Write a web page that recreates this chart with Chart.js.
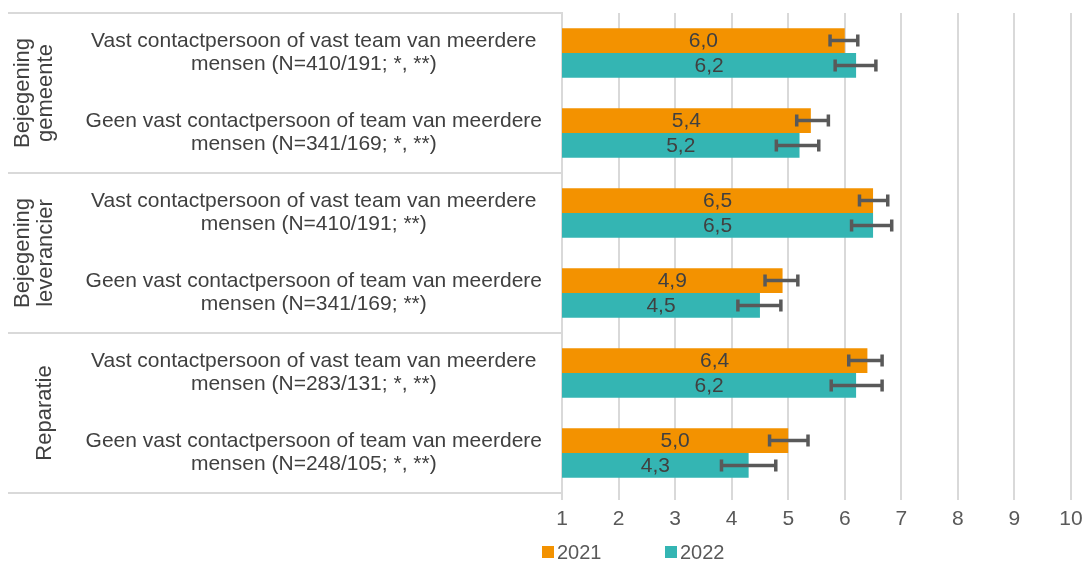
<!DOCTYPE html>
<html>
<head>
  <meta charset="utf-8">
  <title>Bejegening en reparatie</title>
  <script src="https://cdn.jsdelivr.net/npm/chart.js"></script>
  <style>
    html, body { margin: 0; padding: 0; background: #fff; }
    #wrap { width: 1083px; height: 562px; position: relative; }
  </style>
</head>
<body>
  <div id="wrap"><canvas id="chart"></canvas></div>

  <script>
    // data
    const categories = [
      ["Vast contactpersoon of vast team van meerdere", "mensen (N=410/191; *, **)"],
      ["Geen vast contactpersoon of team van meerdere", "mensen (N=341/169; *, **)"],
      ["Vast contactpersoon of vast team van meerdere", "mensen (N=410/191; **)"],
      ["Geen vast contactpersoon of team van meerdere", "mensen (N=341/169; **)"],
      ["Vast contactpersoon of vast team van meerdere", "mensen (N=283/131; *, **)"],
      ["Geen vast contactpersoon of team van meerdere", "mensen (N=248/105; *, **)"]
    ];
    const groups = [
      ["Bejegening", "gemeente"],
      ["Bejegening", "leverancier"],
      ["Reparatie"]
    ];
    const groupSize = 2;
    const seriesNames = ["2021", "2022"];
    const values2021 = [6.0, 5.4, 6.5, 4.9, 6.4, 5.0];
    const values2022 = [6.2, 5.2, 6.5, 4.5, 6.2, 4.3];
    const low2021 = [5.74, 5.15, 6.26, 4.59, 6.07, 4.67];
    const high2021 = [6.23, 5.71, 6.76, 5.17, 6.66, 5.35];
    const low2022 = [5.83, 4.79, 6.12, 4.11, 5.76, 3.82];
    const high2022 = [6.55, 5.54, 6.83, 4.87, 6.66, 4.78];
    const xTicks = [1, 2, 3, 4, 5, 6, 7, 8, 9, 10];

    const orange = "#F39200";
    const teal = "#34B5B3";
    const lineGray = "#D9D9D9";
    const textGray = "#404040";
    const fontFam = "'Liberation Sans', Arial, sans-serif";

    const fmt = v => v.toFixed(1).replace(".", ",");

    // error bars, value labels, group labels, left separators, legend
    const extras = {
      id: "extras",
      afterDatasetsDraw(chart) {
        const ctx = chart.ctx;
        const xs = chart.scales.x;
        const ys = chart.scales.y;
        const area = chart.chartArea;

        // left separator lines
        ctx.save();
        ctx.strokeStyle = lineGray;
        ctx.lineWidth = 2;
        for (let g = 0; g <= groups.length; g++) {
          const y = Math.round(ys.getPixelForValue(g * groupSize - 0.5));
          ctx.beginPath();
          ctx.moveTo(8, y);
          ctx.lineTo(area.left, y);
          ctx.stroke();
        }
        ctx.restore();

        // group labels
        ctx.save();
        ctx.fillStyle = textGray;
        ctx.font = "22px " + fontFam;
        ctx.textAlign = "center";
        ctx.textBaseline = "middle";
        groups.forEach((lines, g) => {
          const yc = (ys.getPixelForValue(g * groupSize - 0.5) + ys.getPixelForValue(g * groupSize + groupSize - 0.5)) / 2;
          ctx.save();
          ctx.translate(lines.length > 1 ? 34 : 45, yc);
          ctx.rotate(-Math.PI / 2);
          const lh = 23;
          lines.forEach((t, i) => {
            ctx.fillText(t, 0, (i - (lines.length - 1) / 2) * lh);
          });
          ctx.restore();
        });
        ctx.restore();

        // value labels and error bars
        const lows = [low2021, low2022];
        const highs = [high2021, high2022];
        chart.data.datasets.forEach((ds, di) => {
          const meta = chart.getDatasetMeta(di);
          meta.data.forEach((bar, i) => {
            const v = ds.data[i];
            const x0 = xs.getPixelForValue(xs.min);
            const x1 = xs.getPixelForValue(v);
            ctx.save();
            ctx.fillStyle = textGray;
            ctx.font = "21px " + fontFam;
            ctx.textAlign = "center";
            ctx.textBaseline = "middle";
            ctx.fillText(fmt(v), (x0 + x1) / 2, bar.y + 1);
            ctx.restore();

            const xl = xs.getPixelForValue(lows[di][i]);
            const xh = xs.getPixelForValue(highs[di][i]);
            ctx.save();
            ctx.strokeStyle = "#595959";
            ctx.lineWidth = 3.5;
            ctx.beginPath();
            ctx.moveTo(xl, bar.y);
            ctx.lineTo(xh, bar.y);
            ctx.moveTo(xl, bar.y - 6);
            ctx.lineTo(xl, bar.y + 6);
            ctx.moveTo(xh, bar.y - 6);
            ctx.lineTo(xh, bar.y + 6);
            ctx.stroke();
            ctx.restore();
          });
        });

        // legend
        ctx.save();
        ctx.font = "20px " + fontFam;
        ctx.textBaseline = "middle";
        ctx.textAlign = "left";
        const legendX = [542, 665];
        const legendY = 552;
        chart.data.datasets.forEach((ds, di) => {
          ctx.fillStyle = ds.backgroundColor;
          ctx.fillRect(legendX[di], legendY - 6, 12, 12);
          ctx.fillStyle = "#595959";
          ctx.fillText(seriesNames[di], legendX[di] + 15, legendY + 1);
        });
        ctx.restore();
      }
    };

    new Chart(document.getElementById("chart"), {
      type: "bar",
      data: {
        labels: categories,
        datasets: [
          { label: seriesNames[0], data: values2021, backgroundColor: orange, borderWidth: 0 },
          { label: seriesNames[1], data: values2022, backgroundColor: teal, borderWidth: 0 }
        ]
      },
      options: {
        indexAxis: "y",
        responsive: true,
        maintainAspectRatio: false,
        animation: false,
        layout: { padding: { top: 13, right: 12, bottom: 29, left: 0 } },
        datasets: {
          bar: { barPercentage: 1.0, categoryPercentage: 0.62 }
        },
        scales: {
          x: {
            min: 1,
            max: 10,
            afterBuildTicks: axis => { axis.ticks = xTicks.map(v => ({ value: v })); },
            grid: { color: lineGray, lineWidth: 2, tickLength: 7 },
            border: { display: false },
            ticks: {
              color: "#595959",
              font: { family: fontFam, size: 21 },
              padding: 7
            },
            afterFit: axis => {
              axis.height = 40;
              axis.paddingLeft = 0;
              axis.paddingRight = 0;
            }
          },
          y: {
            grid: { display: false, drawTicks: false },
            border: { display: true, color: lineGray, width: 2 },
            ticks: {
              color: textGray,
              font: { family: fontFam, size: 21, lineHeight: 1.1 },
              crossAlign: "center",
              padding: 20
            },
            afterFit: axis => {
              axis.width = 562;
              axis.paddingTop = 0;
              axis.paddingBottom = 0;
            }
          }
        },
        plugins: {
          legend: { display: false },
          tooltip: { enabled: false }
        }
      },
      plugins: [extras]
    });
  </script>
</body>
</html>
